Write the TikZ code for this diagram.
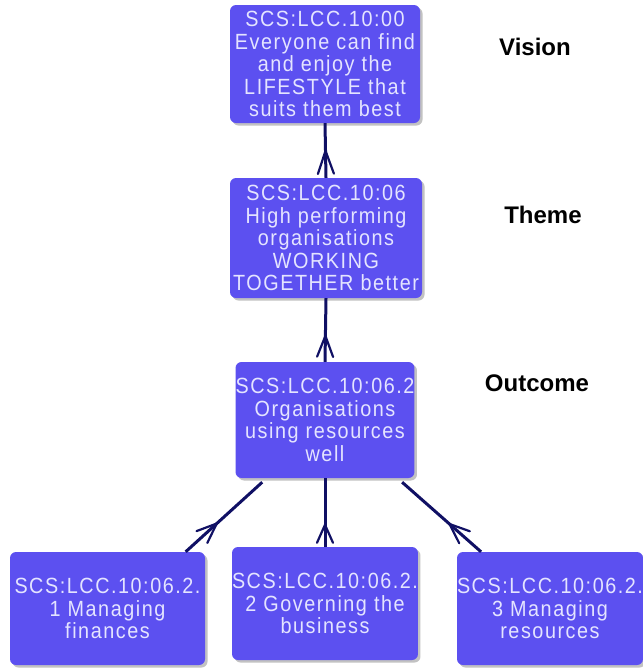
\documentclass[tikz,border=0pt]{standalone}
\usepackage{fontspec}
\setmainfont{Liberation Sans}
\newfontfamily\boxfont[LetterSpace=7,FakeStretch=0.9]{Liberation Sans}
\usetikzlibrary{calc,shadows}
\definecolor{boxblue}{RGB}{92,80,240}
\definecolor{boxtext}{RGB}{228,228,255}
\definecolor{linknavy}{RGB}{16,16,100}

\tikzset{
  goalbox/.style={fill=boxblue, rounded corners=6pt,
    drop shadow={shadow xshift=2.5pt, shadow yshift=-2.5pt, fill=black!40, opacity=0.6},
    text=boxtext, align=center, inner sep=0pt,
    font=\boxfont\fontsize{22}{22.5}\selectfont},
  levellabel/.style={font=\bfseries\fontsize{24}{26}\selectfont, text=black},
  link/.style={draw=linknavy, line width=3pt},
  foot/.style={draw=linknavy, line width=2.2pt, line cap=round, line join=round}
}

% parent-to-child connector with a crow's foot near the child end:
% #3 = distance of the apex from the child, #4 = distance of the foot ends
\newcommand\crowlink[4]{%
  \draw[link] (#1) -- (#2);
  \coordinate (crowA) at ($(#2)!#3!(#1)$);
  \coordinate (crowB) at ($(#2)!#4!(#1)$);
  \draw[foot] ($(crowB)!8pt!90:(crowA)$) -- (crowA) -- ($(crowB)!8pt!-90:(crowA)$);
}

\begin{document}
\begin{tikzpicture}[x=1pt,y=-1pt]
  \useasboundingbox (0,0) rectangle (643,670);

  \node[goalbox, minimum width=190pt, minimum height=118pt] (vision) at (325,64)
    {SCS:LCC.10:00\\Everyone can find\\and enjoy the\\LIFESTYLE that\\suits them best};
  \node[goalbox, minimum width=192pt, minimum height=120pt] (theme) at (326,238)
    {SCS:LCC.10:06\\High performing\\organisations\\WORKING\\TOGETHER better};
  \node[goalbox, minimum width=176pt, minimum height=116pt] (out) at (325,420)
    {SCS:LCC.10:06.2\\Organisations\\using resources\\well};
  \node[goalbox, minimum width=195pt, minimum height=113pt] (c1) at (107.5,608.5)
    {SCS:LCC.10:06.2.\\1 Managing\\finances};
  \node[goalbox, minimum width=176pt, minimum height=113pt] (c2) at (325,603.5)
    {SCS:LCC.10:06.2.\\2 Governing the\\business};
  \node[goalbox, minimum width=180pt, minimum height=113pt] (c3) at (550,608.5)
    {SCS:LCC.10:06.2.\\3 Managing\\resources};

  \node[levellabel] (lvision) at (535,47) {Vision};
  \node[levellabel] (ltheme) at (543,215) {Theme};
  \node[levellabel] (loutcome) at (537,383) {Outcome};

  \coordinate (o1) at ($(out.south west)!0.15!(out.south east)+(0,4)$);
  \coordinate (o3) at ($(out.south west)!0.93!(out.south east)+(0,4)$);
  \coordinate (k1) at ($(c1.north west)!0.9!(c1.north east)$);
  \coordinate (k3) at ($(c3.north west)!0.13!(c3.north east)$);

  \crowlink{vision.south}{theme.north}{27pt}{4pt}
  \crowlink{theme.south}{out.north}{26pt}{5pt}
  \crowlink{out.south}{c2.north}{22pt}{4pt}
  \crowlink{o1}{k1}{42pt}{22pt}
  \crowlink{o3}{k3}{42pt}{22pt}
\end{tikzpicture}
\end{document}
